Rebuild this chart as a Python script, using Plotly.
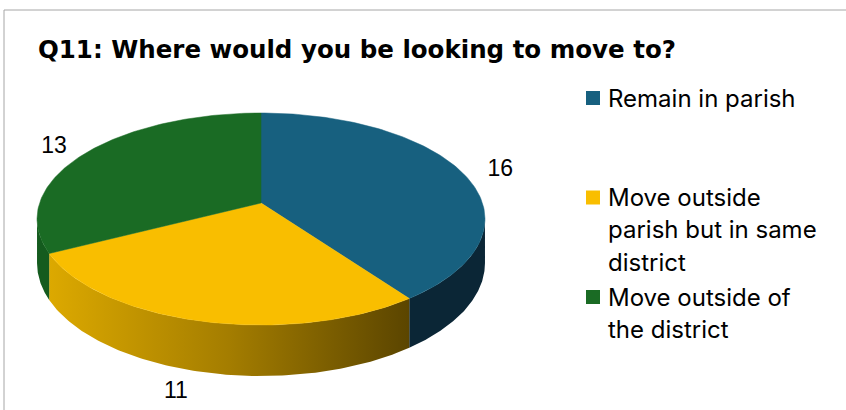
import math
import textwrap
import plotly.graph_objects as go

# Survey responses
categories = ["Remain in parish", "Move outside parish but in same district", "Move outside of the district"]
counts = [16, 11, 13]
top_colors = ["#17607F", "#F9BE00", "#1A6B24"]
title_text = "Q11: Where would you be looking to move to?"

# ---- 3D pie geometry (canvas units = pixels) ----
W, Hgt = 846, 410
cx, cy = 261.0, 203.0      # projected centre of the top face
A, B = 221.4, 103.6        # horizontal / vertical radii before perspective
persp = 0.151              # perspective strength (front nearer than back)
depth = 43.3               # thickness of the pie


def proj(theta_deg, r=1.0, z=0.0):
    t = math.radians(theta_deg)
    u = r * math.sin(t)
    v = -r * math.cos(t)
    s = 1.0 / (1.0 - persp * v)
    return cx + A * u * s, cy + B * v * s + depth * z * s


def arc(t0, t1, z=0.0, n=120):
    pts = [proj(t0 + (t1 - t0) * i / n, 1.0, z) for i in range(n + 1)]
    return [p[0] for p in pts], [p[1] for p in pts]


total = sum(counts)
starts, ends = [], []
acc = 0.0
for c in counts:
    starts.append(acc)
    acc += 360.0 * c / total
    ends.append(acc)

# the outer wall is visible between the two silhouette angles
vis_r = math.degrees(math.acos(-persp))
vis_l = 360.0 - vis_r

side_fills = [
    dict(fillcolor="#0B2636"),
    dict(fillgradient=dict(type="horizontal", colorscale=[[0, "#DCA900"], [0.5, "#A47D00"], [1, "#5B4500"]])),
    dict(fillcolor="#145B1E"),
]

fig = go.Figure()

# outer walls
for i in range(len(counts)):
    a0, a1 = max(starts[i], vis_r), min(ends[i], vis_l)
    if a1 <= a0:
        continue
    xt, yt = arc(a0, a1, 0.0)
    xb, yb = arc(a0, a1, 1.0)
    xs = xt + xb[::-1] + [xt[0]]
    ys = yt + yb[::-1] + [yt[0]]
    fig.add_trace(go.Scatter(x=xs, y=ys, mode="lines", fill="toself",
                             line=dict(width=0, color=top_colors[i]),
                             hoverinfo="skip", showlegend=False, **side_fills[i]))

# top faces
for i in range(len(counts)):
    xa, ya = arc(starts[i], ends[i], 0.0)
    xs = [cx] + xa + [cx]
    ys = [cy] + ya + [cy]
    fig.add_trace(go.Scatter(x=xs, y=ys, mode="lines", fill="toself",
                             fillcolor=top_colors[i], line=dict(width=0.5, color=top_colors[i]),
                             hoverinfo="text", text=f"{categories[i]}: {counts[i]}",
                             showlegend=False))

# data labels outside each slice
lx, ly = [], []
for i in range(len(counts)):
    mid = (starts[i] + ends[i]) / 2
    front = max(0.0, -math.cos(math.radians(mid)))
    x, y = proj(mid, 1.2, 0.75 * front)
    lx.append(x - 10 * front)
    ly.append(y + 4)
fig.add_trace(go.Scatter(x=lx, y=ly, mode="text", text=[str(c) for c in counts],
                         textfont=dict(family="Liberation Sans, Arial, sans-serif", size=23, color="#000000"),
                         hoverinfo="skip", showlegend=False))

# legend: square keys and wrapped labels
leg_x, leg_y0, leg_step, line_step = 593, 98, 99.5, 32.4
key_y = [leg_y0 + leg_step * i for i in range(len(categories))]
fig.add_trace(go.Scatter(x=[leg_x] * len(categories), y=key_y, mode="markers",
                         marker=dict(symbol="square", size=14, color=top_colors, line=dict(width=0)),
                         hoverinfo="skip", showlegend=False))
annotations = []
for i, name in enumerate(categories):
    for j, line in enumerate(textwrap.wrap(name, 18)):
        annotations.append(dict(x=606, y=key_y[i] + j * line_step, xref="x", yref="y",
                                text=line, showarrow=False, xanchor="left", yanchor="middle",
                                font=dict(family="Inter, sans-serif", size=24, color="#000000")))

annotations.append(dict(x=36, y=49, xref="x", yref="y", text=f"<b>{title_text}</b>",
                        showarrow=False, xanchor="left", yanchor="middle",
                        font=dict(family="DejaVu Sans, sans-serif", size=24.5, color="#000000")))

fig.update_layout(
    width=W, height=Hgt,
    margin=dict(l=0, r=0, t=0, b=0),
    paper_bgcolor="white", plot_bgcolor="white",
    xaxis=dict(range=[0, W], visible=False, fixedrange=True),
    yaxis=dict(range=[Hgt, 0], visible=False, fixedrange=True),
    annotations=annotations,
    shapes=[dict(type="rect", xref="x", yref="y", x0=4, y0=10, x1=W + 20, y1=Hgt + 20,
                 line=dict(color="#A6A6A6", width=1), fillcolor="rgba(0,0,0,0)", layer="below")],
    showlegend=False,
)

fig.write_html("out.html")
